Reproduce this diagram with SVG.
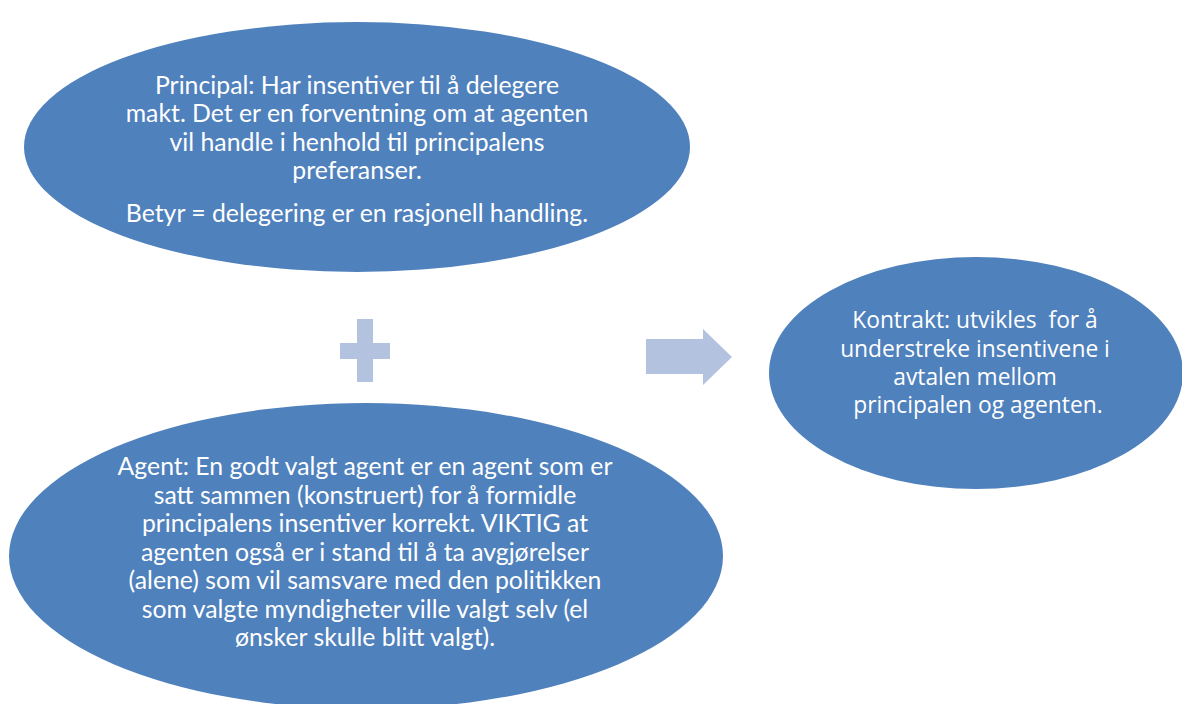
<svg xmlns="http://www.w3.org/2000/svg" width="1182" height="704" viewBox="0 0 1182 704">
<style>
.node{fill:#4F81BD;}
.sym{fill:#B3C3DF;}
.t{fill:#FFFFFF;font-family:Lato,"Liberation Sans",sans-serif;font-size:24.8px;text-anchor:middle;}
.k{fill:#FFFFFF;font-family:"Open Sans","Liberation Sans",sans-serif;font-size:22.8px;text-anchor:middle;}
</style>
<rect width="1182" height="704" fill="#FFFFFF"/>
<g id="principal">
<ellipse class="node" cx="357" cy="147" rx="333" ry="125"/>
<text class="t"><tspan x="357" y="94">Principal: Har insentiver til å delegere</tspan><tspan x="357" y="122">makt. Det er en forventning om at agenten</tspan><tspan x="357" y="151">vil handle i henhold til principalens</tspan><tspan x="357" y="179">preferanser.</tspan><tspan x="357" y="222">Betyr = delegering er en rasjonell handling.</tspan></text>
</g>
<g id="agent">
<ellipse class="node" cx="366" cy="556" rx="357" ry="153"/>
<text class="t"><tspan x="365" y="475">Agent: En godt valgt agent er en agent som er</tspan><tspan x="365" y="504">satt sammen (konstruert) for å formidle</tspan><tspan x="365" y="532">principalens insentiver korrekt. VIKTIG at</tspan><tspan x="365" y="561">agenten også er i stand til å ta avgjørelser</tspan><tspan x="365" y="589">(alene) som vil samsvare med den politikken</tspan><tspan x="365" y="618">som valgte myndigheter ville valgt selv (el</tspan><tspan x="365" y="646">ønsker skulle blitt valgt).</tspan></text>
</g>
<g id="kontrakt">
<ellipse class="node" cx="976" cy="373" rx="207" ry="116"/>
<text class="k" xml:space="preserve"><tspan x="975" y="328">Kontrakt: utvikles  for å</tspan><tspan x="975" y="357">understreke insentivene i</tspan><tspan x="975" y="385">avtalen mellom</tspan><tspan x="978" y="413">principalen og agenten.</tspan></text>
</g>
<g id="plus">
<path class="sym" d="M357 319H373V343H390V359H373V382H357V359H340V343H357Z"/>
</g>
<g id="connectors">
<path class="sym" d="M646 339H703V329L732 357L703 385V374H646Z"/>
</g>
</svg>
